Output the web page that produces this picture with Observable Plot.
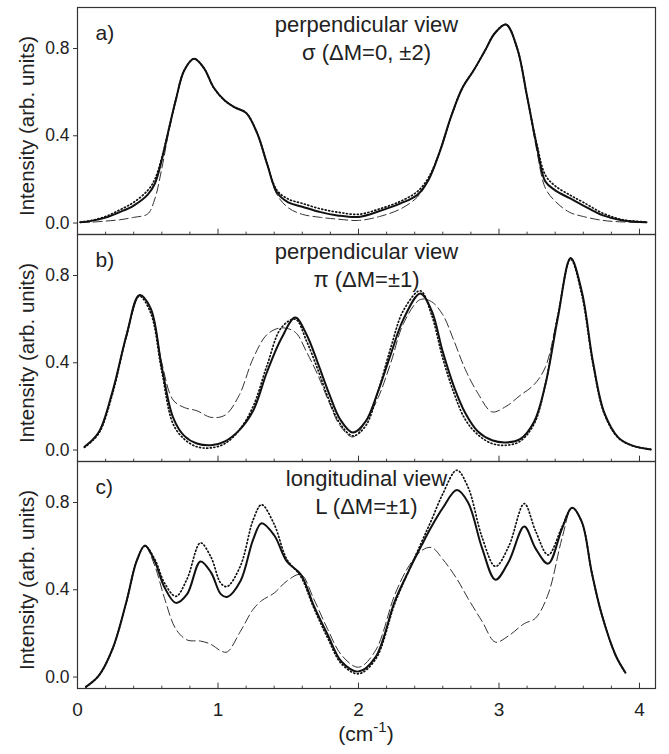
<!DOCTYPE html>
<html><head><meta charset="utf-8">
<script src="https://cdn.jsdelivr.net/npm/d3@7"></script>
<script src="https://cdn.jsdelivr.net/npm/@observablehq/plot@0.6"></script>
<style>body{margin:0;background:#fff} #chart{width:669px;height:754px}</style>
</head><body><div id="chart"></div>
<script>
const panels = ["a", "b", "c"];
const panelLetters = ["a)", "b)", "c)"];
const titleLine1 = ["perpendicular view", "perpendicular view", "longitudinal view"];
const titleLine2 = ["σ (ΔM=0, ±2)", "π (ΔM=±1)", "L (ΔM=±1)"];
const yTicks = [0, 0.4, 0.8];
const xTickLabels = [0, 1, 2, 3, 4];
const xMinorTicks = [0.2,0.4,0.6,0.8,1.2,1.4,1.6,1.8,2.2,2.4,2.6,2.8,3.2,3.4,3.6,3.8];
const xMajorTicks = [1, 2, 3, 4];

// panel a
const aX = [0.02,0.1,0.2,0.3,0.4,0.5,0.55,0.6,0.65,0.7,0.76,0.83,0.9,0.97,1.05,1.12,1.2,1.28,1.35,1.42,1.5,1.6,1.73,1.85,2.0,2.15,2.3,2.42,2.5,2.58,2.66,2.74,2.82,2.9,2.97,3.05,3.13,3.2,3.27,3.33,3.4,3.5,3.6,3.74,3.88,4.05];
const aSolid = [.004,.01,.025,.05,.08,.13,.18,.29,.43,.565,.70,.753,.71,.62,.56,.53,.505,.41,.27,.14,.095,.075,.05,.035,.028,.055,.09,.13,.20,.33,.49,.62,.70,.79,.87,.91,.80,.58,.35,.19,.15,.115,.08,.035,.012,.004];
const aDotted = [.004,.012,.03,.06,.095,.15,.2,.3,.43,.565,.70,.753,.71,.62,.56,.53,.505,.41,.27,.15,.11,.09,.065,.05,.04,.065,.10,.145,.21,.33,.49,.62,.70,.79,.87,.91,.80,.58,.36,.22,.17,.13,.095,.045,.015,.005];
const aDashed = [.002,.004,.009,.015,.026,.042,.11,.25,.42,.565,.70,.753,.71,.62,.56,.53,.505,.41,.27,.13,.07,.04,.026,.018,.012,.03,.065,.12,.20,.33,.49,.62,.70,.79,.87,.91,.80,.58,.33,.16,.10,.05,.03,.012,.005,.002];

// panel b
const bX = [0.05,0.15,0.25,0.35,0.44,0.52,0.6,0.68,0.76,0.85,0.95,1.05,1.15,1.25,1.35,1.45,1.55,1.63,1.71,1.79,1.87,1.96,2.05,2.14,2.23,2.32,2.44,2.52,2.6,2.68,2.76,2.85,2.95,3.05,3.15,3.25,3.33,3.42,3.51,3.59,3.67,3.75,3.85,3.95,4.08];
const bSolid = [.015,.08,.27,.53,.71,.65,.38,.15,.065,.03,.022,.04,.09,.18,.36,.51,.607,.53,.40,.26,.14,.08,.13,.27,.44,.60,.718,.64,.45,.29,.17,.085,.045,.035,.05,.13,.30,.61,.88,.725,.40,.17,.057,.02,.003];
const bDotted = [.012,.075,.26,.53,.705,.63,.36,.12,.05,.015,.01,.03,.09,.2,.39,.56,.6,.5,.37,.23,.12,.065,.11,.27,.47,.64,.73,.62,.42,.26,.14,.07,.03,.022,.04,.12,.30,.62,.875,.71,.39,.165,.055,.02,.003];
const bDashed = [.015,.08,.27,.52,.71,.65,.40,.23,.195,.18,.15,.16,.25,.42,.53,.56,.54,.45,.345,.22,.11,.06,.13,.24,.40,.58,.69,.68,.62,.50,.37,.26,.175,.20,.25,.30,.38,.62,.88,.725,.40,.17,.057,.02,.003];

// panel c
const cX = [0.06,0.15,0.25,0.35,0.42,0.48,0.55,0.62,0.7,0.78,0.875,0.95,1.02,1.065,1.16,1.25,1.31,1.4,1.49,1.59,1.68,1.78,1.88,2.0,2.12,2.26,2.36,2.45,2.52,2.6,2.7,2.78,2.88,2.975,3.07,3.18,3.26,3.35,3.45,3.52,3.59,3.66,3.73,3.83,3.9];
const cSolid = [-.045,.005,.13,.35,.53,.603,.53,.41,.34,.38,.53,.48,.38,.367,.44,.63,.705,.65,.53,.47,.33,.195,.07,.025,.09,.35,.49,.605,.69,.775,.857,.80,.59,.446,.53,.69,.59,.52,.683,.776,.71,.48,.29,.10,.02];
const cDotted = [-.045,.005,.13,.35,.53,.60,.54,.43,.37,.45,.615,.55,.43,.415,.51,.72,.79,.70,.54,.46,.32,.18,.06,.015,.08,.34,.49,.62,.72,.84,.948,.87,.64,.507,.60,.795,.67,.56,.69,.776,.71,.48,.29,.10,.02];
const cDashed = [-.045,.005,.13,.35,.53,.60,.51,.36,.22,.17,.165,.15,.12,.115,.21,.31,.35,.385,.44,.47,.36,.22,.10,.045,.12,.38,.51,.58,.594,.54,.45,.36,.255,.16,.19,.245,.27,.38,.64,.776,.71,.48,.29,.10,.02];

function rows(panel, xs, ys) { return xs.map((x, i) => ({panel, x, y: ys[i]})); }
const solidRows = [...rows("a", aX, aSolid), ...rows("b", bX, bSolid), ...rows("c", cX, cSolid)];
const dottedRows = [...rows("a", aX, aDotted), ...rows("b", bX, bDotted), ...rows("c", cX, cDotted)];
const dashedRows = [...rows("a", aX, aDashed), ...rows("b", bX, bDashed), ...rows("c", cX, cDashed)];

const W = 669, H = 754, mt = 6, mb = 65, ml = 77, mr = 14;
const facetH = (H - mt - mb) / 3;
const font = "'Liberation Sans', Arial, Helvetica, sans-serif";
const curve = "catmull-rom";

const chart = Plot.plot({
  width: W, height: H,
  marginTop: mt, marginBottom: mb, marginLeft: ml, marginRight: mr,
  style: {fontFamily: font, background: "white", color: "#222", overflow: "visible"},
  x: {domain: [0, 4.114], axis: null},
  y: {domain: [-0.0525, 0.988]},
  fy: {domain: panels, padding: 0, axis: null},
  marks: [
    Plot.axisY(yTicks, {tickFormat: d3.format(".1f"), tickSize: 4, tickPadding: 4, fontSize: 17.5, label: null, stroke: "#333"}),
    Plot.ruleX(xMinorTicks, {x: d => d, insetTop: facetH - 3, stroke: "#444"}),
    Plot.ruleX(xMajorTicks, {x: d => d, insetTop: facetH - 6, stroke: "#333"}),
    Plot.line(dashedRows, {x: "x", y: "y", fy: "panel", curve, stroke: "#333", strokeWidth: 1, strokeDasharray: "9,4"}),
    Plot.line(dottedRows, {x: "x", y: "y", fy: "panel", curve, stroke: "#111", strokeWidth: 1.7, strokeDasharray: "1,2.6"}),
    Plot.line(solidRows, {x: "x", y: "y", fy: "panel", curve, stroke: "#111", strokeWidth: 2}),
    Plot.frame({stroke: "#333", strokeWidth: 1.2}),
    Plot.text(panels, {fy: d => d, text: (d, i) => panelLetters[i], frameAnchor: "top-left", dx: 18, dy: 26, textAnchor: "start", lineAnchor: "middle", fontSize: 21, fill: "#222"}),
    Plot.text(panels, {fy: d => d, text: (d, i) => titleLine1[i], frameAnchor: "top", dy: 17, textAnchor: "middle", lineAnchor: "middle", fontSize: 22, fill: "#222"}),
    Plot.text(panels, {fy: d => d, text: (d, i) => titleLine2[i], frameAnchor: "top", dy: 45, textAnchor: "middle", lineAnchor: "middle", fontSize: 22, fill: "#222"}),
    Plot.text(panels, {fy: d => d, text: () => "Intensity (arb. units)", frameAnchor: "left", dx: -50, dy: 5, rotate: -90, textAnchor: "middle", lineAnchor: "middle", fontSize: 20.5, fill: "#222"}),
    Plot.text(xTickLabels, {x: d => d, fy: () => "c", frameAnchor: "bottom", dy: 21, textAnchor: "middle", lineAnchor: "middle", fontSize: 19, fill: "#222"})
  ]
});
document.getElementById("chart").appendChild(chart);

// x-axis title with superscript
const svg = d3.select(chart);
const xl = svg.append("text")
  .attr("x", ml + (W - ml - mr) / 2)
  .attr("y", 741)
  .attr("text-anchor", "middle")
  .attr("font-family", font)
  .attr("font-size", 21)
  .attr("fill", "#222");
xl.append("tspan").text("(cm");
xl.append("tspan").attr("font-size", 15).attr("dy", -9).text("-1");
xl.append("tspan").attr("dy", 9).text(")");
</script>
</body></html>
